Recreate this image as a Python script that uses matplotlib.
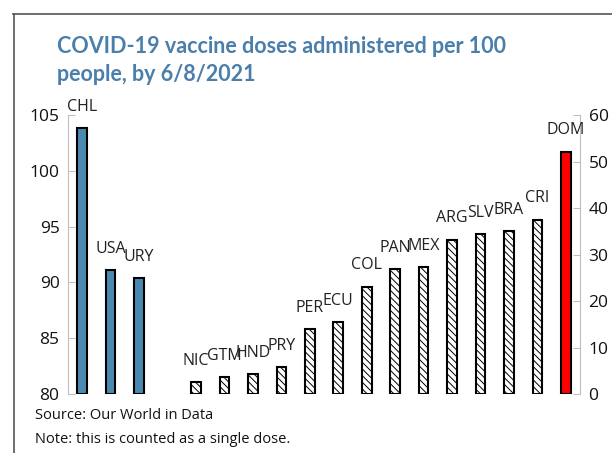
import matplotlib
matplotlib.use("Agg")
import matplotlib.pyplot as plt
from matplotlib.lines import Line2D
import numpy as np

# Countries and doses per 100 people
left_codes = ["CHL", "USA", "URY"]
left_values = [103.8, 91.1, 90.4]

right_codes = ["NIC", "GTM", "HND", "PRY", "PER", "ECU", "COL", "PAN",
               "MEX", "ARG", "SLV", "BRA", "CRI"]
right_values = [2.5, 3.6, 4.3, 5.8, 13.9, 15.5, 23.1, 26.9,
                27.3, 33.2, 34.4, 35.1, 37.5]

dom_code = "DOM"
dom_value = 52.1

left_ticks = [80, 85, 90, 95, 100, 105]
right_ticks = [0, 10, 20, 30, 40, 50, 60]

plt.rcParams["hatch.linewidth"] = 0.7
plt.rcParams["hatch.color"] = "#555555"
font = "Open Sans"

fig = plt.figure(figsize=(6.12, 4.53), dpi=100)
ax = fig.add_axes([0.111, 0.130, 0.837, 0.616])
ax2 = ax.twinx()

# positions: three left bars, one empty slot, then the rest
x_left = np.arange(len(left_codes))
x_right = np.arange(len(right_codes)) + len(left_codes) + 1
x_dom = x_right[-1] + 1

w = 0.34
ax.bar(x_left, [v - 80 for v in left_values], bottom=80, width=w,
       color="#4b8ab0", edgecolor="black", linewidth=1.5, zorder=3)
ax2.bar(x_right, right_values, width=w, color="white", edgecolor="black",
        hatch="\\\\\\\\\\", linewidth=1.5, zorder=3)
ax2.bar([x_dom], [dom_value], width=w, color="#ff0000", edgecolor="black",
        linewidth=1.5, zorder=3)

lab = dict(ha="center", va="baseline", fontsize=11.5, family=font,
           color="#222222", clip_on=False)
off = (0, 12.5)
for x, v, c in zip(x_left, left_values, left_codes):
    ax.annotate(c, (x, v), xytext=off, textcoords="offset points", **lab)
for x, v, c in zip(x_right, right_values, right_codes):
    ax2.annotate(c, (x, v), xytext=off, textcoords="offset points", **lab)
ax2.annotate(dom_code, (x_dom, dom_value), xytext=off,
             textcoords="offset points", **lab)

ax.set_xlim(-0.5, x_dom + 0.5)
ax.set_ylim(80, 105)
ax2.set_ylim(0, 60)
ax.set_yticks(left_ticks)
ax2.set_yticks(right_ticks)
ax.set_xticks([])

for a in (ax, ax2):
    for s in a.spines.values():
        s.set_visible(False)
    a.tick_params(axis="y", direction="in", length=5, color="#bfbfbf",
                  labelsize=12.5, labelcolor="#111111", pad=6)
    for t in a.get_yticklabels():
        t.set_family(font)
ax.spines["left"].set_visible(True)
ax.spines["left"].set_color("#bfbfbf")
ax2.spines["right"].set_visible(True)
ax2.spines["right"].set_color("#bfbfbf")

# title
fig.text(0.093, 0.866, "COVID-19 vaccine doses administered per 100\npeople, by 6/8/2021",
         ha="left", va="center", fontsize=15.5, fontweight="bold",
         family="Lato", color="#4a7fab", linespacing=1.42)

# source and note
fig.text(0.057, 0.082, "Source: Our World in Data", fontsize=10.5,
         family=font, color="#111111", va="center")
fig.text(0.057, 0.030, "Note: this is counted as a single dose.", fontsize=10.5,
         family=font, color="#111111", va="center")

# outer frame (top and left)
fig.add_artist(Line2D([0.022, 1.0], [0.968, 0.968], color="#555555", lw=1.2,
                      transform=fig.transFigure))
fig.add_artist(Line2D([0.023, 0.023], [0.0, 0.968], color="#555555", lw=1.2,
                      transform=fig.transFigure))

fig.savefig("out.png", dpi=100)
